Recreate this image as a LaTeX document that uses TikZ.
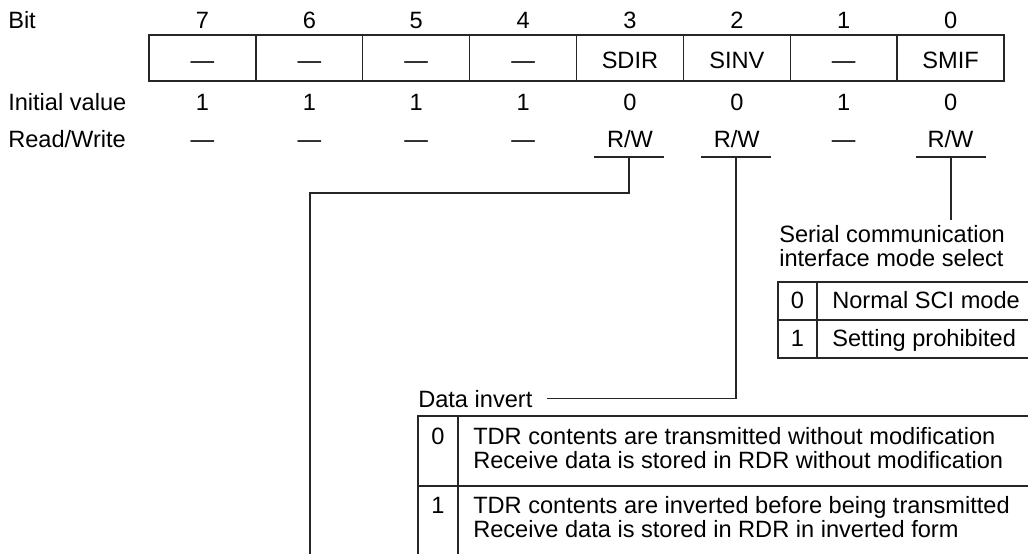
\documentclass[tikz,border=0pt]{standalone}
\usepackage{fontspec}
\setmainfont{Liberation Sans}
\usetikzlibrary{calc}
\newcommand\fsz{\fontsize{17.7}{21}\selectfont}
\begin{document}
\begin{tikzpicture}[x=0.75pt,y=-0.75pt,
  txt/.style={inner sep=0pt, anchor=base, font=\fsz, text=black},
  txtl/.style={inner sep=0pt, anchor=base west, font=\fsz, text=black},
  cell/.style={draw=black!85, line width=1pt, minimum width=80.156pt, minimum height=34.5pt, inner sep=0pt},
  ln/.style={line width=1pt, draw=black!85},
]
\useasboundingbox (0,0) rectangle (1028,554);

% row labels
\node[txtl] (bitlbl) at (8,28) {Bit};
\node[txtl] (initlbl) at (8,110) {Initial value};
\node[txtl] (rwlbl) at (8,147) {Read/Write};

% register cells
\foreach \b/\name/\init/\rw [count=\i from 0] in
  {7/—/1/—, 6/—/1/—, 5/—/1/—, 4/—/1/—, 3/SDIR/0/R\slash W, 2/SINV/0/R\slash W, 1/—/1/—, 0/SMIF/0/R\slash W}{
  \pgfmathsetmacro\cx{202.4375+106.875*\i}
  \node[cell] (cell\b) at (\cx,58) {};
  \node[txt] (bit\b) at (\cx,28) {\b};
  \node[txt] (name\b) at (\cx,68) {\name};
  \node[txt] (init\b) at (\cx,110) {\init};
  \node[txt] (rw\b) at (\cx,147) {\rw};
}

% underlines
\draw[ln] (594,157) -- (664,157);
\draw[ln] (701,157) -- (771,157);
\draw[ln] (916,157) -- (986,157);
\coordinate (s3top) at (629,157);
\coordinate (s2top) at (736,157);
\coordinate (s0top) at (951,157);
\coordinate (s3end) at (310,554);
\coordinate (s0end) at (951,220);

% SDIR connector
\draw[ln] (s3top) -- (629,193) -| (s3end);

% SMIF description
\draw[ln] (s0top) -- (s0end);
\node[txtl] (sci1) at (779,242) {Serial communication};
\node[txtl] (sci2) at (779,266) {interface mode select};
\draw[ln] (1028,282) -- (778,282) -- (778,358) -- (1028,358);
\draw[ln] (778,320) -- (1028,320);
\draw[ln] (817,282) -- (817,358);
\node[txt] (smif0) at (797.5,308) {0};
\node[txtl] (smif0t) at (832,308) {Normal SCI mode};
\node[txt] (smif1) at (797.5,346) {1};
\node[txtl] (smif1t) at (832,346) {Setting prohibited};

% SINV description
\node[txtl] (datainv) at (418,407) {Data invert};
\draw[ln] (s2top) |- ($(datainv.east)+(14,0)$);
\draw[ln] (1028,416) -- (418,416) -- (418,554);
\draw[ln] (458,416) -- (458,554);
\draw[ln] (418,486) -- (1028,486);
\node[txt] (sinv0) at (438,444) {0};
\node[txtl] (sinv0a) at (473,444) {TDR contents are transmitted without modification};
\node[txtl] (sinv0b) at (473,468) {Receive data is stored in RDR without modification};
\node[txt] (sinv1) at (438,513) {1};
\node[txtl] (sinv1a) at (473,513) {TDR contents are inverted before being transmitted};
\node[txtl] (sinv1b) at (473,537) {Receive data is stored in RDR in inverted form};
\end{tikzpicture}
\end{document}
